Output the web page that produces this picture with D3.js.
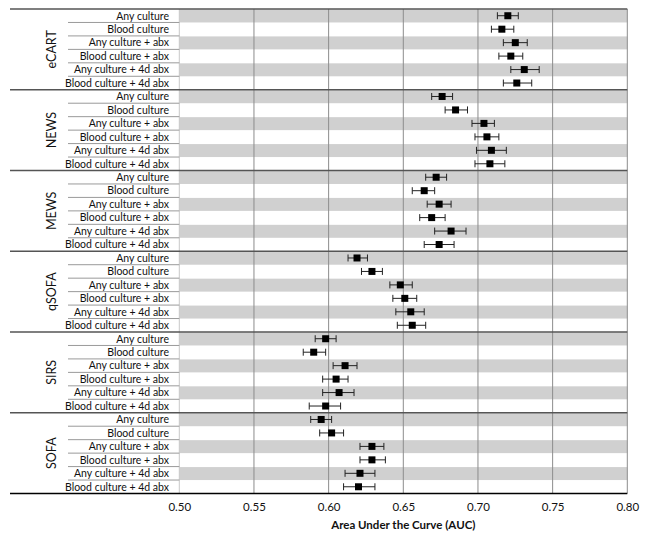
<!DOCTYPE html>
<html><head><meta charset="utf-8">
<script src="https://cdn.jsdelivr.net/npm/d3@7"></script>
<style>body{margin:0;background:#fff;} svg{display:block;font-family:Lato,sans-serif;}</style>
</head><body>
<svg id="chart" width="646" height="540"></svg>
<script>
const groups = ["eCART","NEWS","MEWS","qSOFA","SIRS","SOFA"];
const outcomes = ["Any culture","Blood culture","Any culture + abx","Blood culture + abx","Any culture + 4d abx","Blood culture + 4d abx"];
const auc = [
  [0.720,0.716,0.725,0.722,0.731,0.726],
  [0.676,0.685,0.704,0.706,0.709,0.708],
  [0.672,0.664,0.674,0.669,0.682,0.674],
  [0.619,0.629,0.648,0.651,0.655,0.656],
  [0.598,0.590,0.611,0.605,0.607,0.598],
  [0.595,0.602,0.629,0.629,0.621,0.620]
];
const lower = [
  [0.713,0.709,0.717,0.714,0.722,0.717],
  [0.669,0.678,0.696,0.698,0.699,0.698],
  [0.665,0.656,0.666,0.661,0.671,0.664],
  [0.613,0.622,0.641,0.643,0.645,0.646],
  [0.591,0.583,0.603,0.596,0.596,0.587],
  [0.588,0.594,0.621,0.621,0.611,0.610]
];
const upper = [
  [0.727,0.724,0.733,0.730,0.741,0.736],
  [0.683,0.693,0.711,0.714,0.719,0.718],
  [0.679,0.671,0.682,0.678,0.692,0.684],
  [0.626,0.636,0.656,0.659,0.664,0.665],
  [0.605,0.598,0.619,0.613,0.617,0.608],
  [0.602,0.610,0.637,0.638,0.631,0.631]
];
const xTicks = [0.50,0.55,0.60,0.65,0.70,0.75,0.80];

const rows = [];
groups.forEach((g,gi)=>outcomes.forEach((o,oi)=>rows.push({g,gi,o,oi,key:gi+"-"+oi,v:auc[gi][oi],lo:lower[gi][oi],hi:upper[gi][oi]})));

const svg = d3.select("#chart");
const L = 179.3, R = 627.3, T = 9, B = 493.5;
const x = d3.scaleLinear().domain([0.5,0.8]).range([L,R]);
const y = d3.scaleBand().domain(rows.map(r=>r.key)).range([T,B]).padding(0);
const bh = y.bandwidth();

// bands
svg.append("g").selectAll("rect").data(rows.filter(r=>r.oi%2===0)).join("rect")
  .attr("x",L).attr("y",r=>y(r.key)+0.5).attr("width",R-L).attr("height",bh-0.5)
  .attr("fill","#d0d0d0");

// gridlines
svg.append("g").selectAll("line").data(xTicks).join("line")
  .attr("x1",d=>x(d)).attr("x2",d=>x(d)).attr("y1",T).attr("y2",B)
  .attr("stroke",d=>d===0.5?"#c8c8c8":"#8c8c8c").attr("stroke-width",1);

// row separators in label column
svg.append("g").selectAll("line").data(rows.filter(r=>r.oi>0)).join("line")
  .attr("x1",68).attr("x2",L).attr("y1",r=>y(r.key)).attr("y2",r=>y(r.key))
  .attr("stroke","#9a9a9a").attr("stroke-width",1);

// group separators
svg.append("g").selectAll("line").data(d3.range(groups.length+1)).join("line")
  .attr("x1",10).attr("x2",R)
  .attr("y1",i=>i<groups.length?y(i+"-0"):B).attr("y2",i=>i<groups.length?y(i+"-0"):B)
  .attr("stroke",i=>i===groups.length?"#000":"#555").attr("stroke-width",1.3);

// row labels
svg.append("g").selectAll("text").data(rows).join("text")
  .attr("x",169).attr("y",r=>y(r.key)+bh/2).attr("dy","0.36em")
  .attr("text-anchor","end").attr("font-size",10.5).attr("fill","#111").text(r=>r.o);

// group labels
svg.append("g").selectAll("text").data(groups).join("text")
  .attr("transform",(g,i)=>{const cy=y(i+"-0")+bh*3;return `translate(52,${cy}) rotate(-90)`;})
  .attr("text-anchor","middle").attr("dy","0.35em").attr("font-size",12.5).attr("fill","#111").text(g=>g);

// error bars
const eb = svg.append("g").attr("stroke","#222").attr("stroke-width",1);
eb.selectAll("line.h").data(rows).join("line").attr("class","h")
  .attr("x1",r=>x(r.lo)).attr("x2",r=>x(r.hi)).attr("y1",r=>y(r.key)+bh/2).attr("y2",r=>y(r.key)+bh/2);
eb.selectAll("line.l").data(rows).join("line").attr("class","l")
  .attr("x1",r=>x(r.lo)).attr("x2",r=>x(r.lo)).attr("y1",r=>y(r.key)+bh/2-3.5).attr("y2",r=>y(r.key)+bh/2+3.5);
eb.selectAll("line.r").data(rows).join("line").attr("class","r")
  .attr("x1",r=>x(r.hi)).attr("x2",r=>x(r.hi)).attr("y1",r=>y(r.key)+bh/2-3.5).attr("y2",r=>y(r.key)+bh/2+3.5);

// markers
svg.append("g").selectAll("rect").data(rows).join("rect")
  .attr("x",r=>x(r.v)-3.5).attr("y",r=>y(r.key)+bh/2-3.5).attr("width",7).attr("height",7).attr("fill","#000");

// x axis
const ax = svg.append("g").attr("transform",`translate(0,${B})`)
  .call(d3.axisBottom(x).tickValues(xTicks).tickFormat(d3.format(".2f")).tickSize(0).tickPadding(9));
ax.select(".domain").remove();
ax.selectAll("text").attr("font-size",11.5).attr("font-family","Lato,sans-serif").attr("fill","#111");

svg.append("text").attr("x",(L+R)/2).attr("y",529).attr("text-anchor","middle")
  .attr("font-size",11.5).attr("font-weight","bold").attr("fill","#111").text("Area Under the Curve (AUC)");
</script>
</body></html>
